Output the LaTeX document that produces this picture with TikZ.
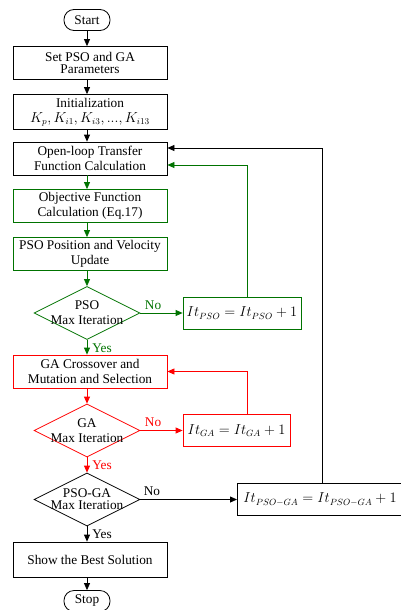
\documentclass[tikz,border=0pt]{standalone}
\usepackage{fontspec}
\setmainfont{Liberation Serif}
\usetikzlibrary{arrows.meta,shapes.geometric,calc}
\definecolor{pgreen}{RGB}{0,115,0}
\definecolor{pred}{RGB}{255,0,0}
\begin{document}
\begin{tikzpicture}[x=1pt,y=-1pt,
  font=\fontsize{13.3}{15}\selectfont,
  line width=0.8pt,
  box/.style={draw, minimum width=154pt, minimum height=33pt, align=center, inner sep=2pt},
  term/.style={draw, rounded corners=10pt, minimum width=46pt, minimum height=21pt, inner sep=2pt},
  dia/.style={draw, diamond, minimum width=106pt, minimum height=53pt, inner sep=0pt},
  ibox/.style={draw, minimum height=32pt, inner sep=3pt},
  arr/.style={-{Triangle[length=7pt,width=6pt]}},
  lab/.style={inner sep=1pt}]
\useasboundingbox (0,0) rectangle (401,610);
\coordinate (ax) at (87,0);
\coordinate (bx) at (322,0);
\coordinate (gx) at (247,0);

\node[term] (start) at (87,20) {Start};
\node[box] (set) at (90,63) {Set PSO and GA\\[-3pt]Parameters};
\node[box, minimum height=35pt] (init) at (90,112) {Initialization\\$K_p, K_{i1}, K_{i3}, ..., K_{i13}$};
\node[box] (open) at (90,158.5) {Open-loop Transfer\\Function Calculation};
\node[box, pgreen, text=black] (obj) at (90,206) {Objective Function\\Calculation (Eq.17)};
\node[box, pgreen, text=black] (pos) at (90,254) {PSO Position and Velocity\\Update};
\node[dia, pgreen] (d1) at (87,313) {};
\node[align=center] (d1t) at (d1) {PSO\\Max Iteration};
\node[ibox, pgreen, text=black, minimum width=118pt] (itpso) at (242,313) {$It_{PSO}=It_{PSO}+1$};
\node[box, pred, text=black] (ga) at (90,371.5) {GA Crossover and\\Mutation and Selection};
\node[dia, pred] (d2) at (87,430.5) {};
\node[align=center] (d2t) at (d2) {GA\\Max Iteration};
\node[ibox, pred, text=black, minimum width=107pt] (itga) at (236.5,430.5) {$It_{GA}=It_{GA}+1$};
\node[dia] (d3) at (87,499.5) {};
\node[align=center] (d3t) at (d3) {PSO-GA\\[-3pt]Max Iteration};
\node[ibox, anchor=west, inner sep=6pt] (itpg) at (237,499.5) {$It_{PSO-GA}=It_{PSO-GA}+1$\hspace{20pt}};
\node[box, minimum height=35pt] (best) at (90,559.5) {Show the Best Solution};
\node[term] (stop) at (87,601) {Stop};

% main flow
\draw[arr] (start) -- (start |- set.north);
\draw[arr] (set.south -| ax) -- (init.north -| ax);
\draw[arr] (init.south -| ax) -- (open.north -| ax);
\draw[arr, pgreen] (open.south -| ax) -- (obj.north -| ax);
\draw[arr, pgreen] (obj.south -| ax) -- (pos.north -| ax);
\draw[arr, pgreen] (pos.south -| ax) -- (d1.north);
\draw[arr, pgreen] (d1.south) -- (ga.north -| ax) node[lab, midway, anchor=west, xshift=4pt, yshift=-1pt] {Yes};
\draw[arr, pred] (ga.south -| ax) -- (d2.north);
\draw[arr, pred] (d2.south) -- (d3.north) node[lab, midway, anchor=west, xshift=4pt] {Yes};
\draw[arr] (d3.south) -- (best.north -| ax) node[lab, midway, anchor=west, xshift=4pt] {Yes};
\draw[arr] (best.south -| ax) -- (stop.north);

% No branches
\draw[arr, pgreen] (d1.east) -- (itpso.west) node[lab, pos=0.3, above, yshift=2pt] {No};
\draw[arr, pred] (d2.east) -- (itga.west) node[lab, pos=0.3, above, yshift=2pt] {No};
\draw[arr] (d3.east) -- (itpg.west) node[lab, pos=0.12, above, yshift=2pt] {No};

% loops
\draw[arr, pgreen] (itpso.north -| gx) |- ([yshift=-6.5pt]open.east);
\draw[arr, pred] (itga.north -| gx) |- (ga.east);
\draw[arr] (itpg.north -| bx) |- ([yshift=10.5pt]open.east);
\end{tikzpicture}
\end{document}
